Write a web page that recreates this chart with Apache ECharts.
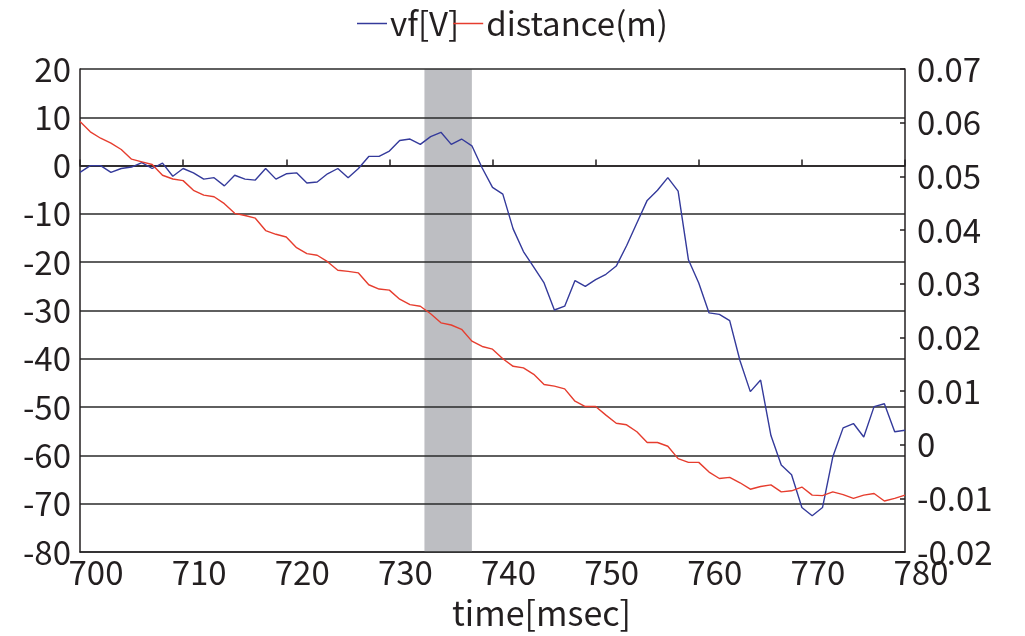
<!DOCTYPE html>
<html>
<head>
<meta charset="utf-8">
<script src="https://cdn.jsdelivr.net/npm/echarts@6/dist/echarts.min.js"></script>
<style>
html,body{margin:0;padding:0;background:#fff;}
#chart{width:1025px;height:636px;}
</style>
</head>
<body>
<div id="chart"></div>
<script>
const times = [700,701,702,703,704,705,706,707,708,709,710,711,712,713,714,715,716,717,718,719,720,
721,722,723,724,725,726,727,728,729,730,731,732,733,734,735,736,737,738,739,740,
741,742,743,744,745,746,747,748,749,750,751,752,753,754,755,756,757,758,759,760,
761,762,763,764,765,766,767,768,769,770,771,772,773,774,775,776,777,778,779,780];

const vf = [-1.4,0,0,-1.4,-0.6,-0.3,0.6,-0.6,0.5,-2.2,-0.6,
-1.5,-2.8,-2.5,-4.2,-2.0,-2.8,-3.0,-0.6,-2.8,-1.7,
-1.5,-3.6,-3.4,-1.7,-0.6,-2.5,-0.6,1.9,1.9,3.0,
5.2,5.5,4.4,6.0,6.9,4.4,5.5,4.1,-0.5,-4.5,
-5.9,-13.1,-17.8,-21.0,-24.3,-29.9,-29.1,-23.8,-25.0,-23.6,
-22.5,-20.8,-16.6,-11.9,-7.2,-5.1,-2.5,-5.3,-19.5,-24.3,
-30.5,-30.8,-32.1,-40.4,-46.8,-44.4,-55.9,-62.0,-64.0,-70.8,
-72.5,-70.8,-60.3,-54.3,-53.4,-56.2,-49.9,-49.3,-55.1,-54.8];

const distance = [0.0602,0.0583,0.0571,0.0562,0.0550,0.0532,0.0527,0.0522,0.0502,0.0495,0.0492,
0.0474,0.0465,0.0462,0.0449,0.0431,0.0427,0.0422,0.0399,0.0392,0.0387,
0.0367,0.0356,0.0353,0.0341,0.0325,0.0323,0.0320,0.0298,0.0290,0.0288,
0.0271,0.0261,0.0258,0.0244,0.0227,0.0223,0.0215,0.0193,0.0183,0.0178,
0.0160,0.0146,0.0143,0.0131,0.0112,0.0109,0.0104,0.0081,0.0071,0.0071,
0.0055,0.0040,0.0037,0.0024,0.0004,0.0004,-0.0003,-0.0026,-0.0033,-0.0033,
-0.0051,-0.0063,-0.0061,-0.0071,-0.0083,-0.0078,-0.0075,-0.0088,-0.0086,-0.0079,
-0.0094,-0.0095,-0.0088,-0.0093,-0.0100,-0.0094,-0.0091,-0.0105,-0.0100,-0.0094];

const band = [733.4, 738.0];
const seriesNames = ['vf[V]', 'distance(m)'];
const xName = 'time[msec]';

const FONT = '"Noto Sans CJK JP", "Noto Sans", sans-serif';
const TXT = '#231f20';

const chart = echarts.init(document.getElementById('chart'), null, {renderer: 'canvas'});
chart.setOption({
  animation: false,
  backgroundColor: '#fff',
  textStyle: {fontFamily: FONT},
  legend: {
    top: 2,
    left: 352,
    icon: 'rect',
    itemWidth: 30,
    itemHeight: 1.5,
    itemGap: -6,
    textStyle: {fontFamily: FONT, fontSize: 33, color: TXT, padding: [0, 0, 0, -2]},
    data: seriesNames
  },
  grid: {left: 80, right: 120, top: 69, bottom: 84, containLabel: false},
  xAxis: [
    {
      type: 'value', min: 700, max: 780, interval: 10, position: 'bottom',
      axisLine: {show: true, onZero: false, lineStyle: {color: TXT, width: 1.5}},
      axisTick: {show: false},
      splitLine: {show: false},
      axisLabel: {fontFamily: FONT, fontSize: 33, color: TXT, margin: 4, padding: [0, 0, 0, 32]}
    },
    {
      type: 'value', min: 700, max: 780, interval: 10, position: 'bottom', z: 1.5,
      axisLine: {show: true, onZero: true, onZeroAxisIndex: 0, lineStyle: {color: TXT, width: 1.5}},
      axisTick: {show: true, inside: true, length: 6, lineStyle: {color: TXT, width: 1.5}},
      splitLine: {show: false},
      axisLabel: {show: false}
    }
  ],
  yAxis: [
    {
      type: 'value', min: -80, max: 20, interval: 10, position: 'left', z: 1.5,
      axisLine: {show: true, onZero: false, lineStyle: {color: TXT, width: 1.5}},
      axisTick: {show: false},
      splitLine: {show: true, lineStyle: {color: '#2a2a2a', width: 1.5}},
      axisLabel: {fontFamily: FONT, fontSize: 33, color: TXT, margin: 9}
    },
    {
      type: 'value', min: -0.02, max: 0.07, interval: 0.01, position: 'right', z: 1.5,
      axisLine: {show: true, onZero: false, lineStyle: {color: TXT, width: 1.5}},
      axisTick: {show: true, inside: true, length: 5, lineStyle: {color: TXT, width: 1.5}},
      splitLine: {show: false},
      axisLabel: {fontFamily: FONT, fontSize: 33, color: TXT, margin: 12,
        formatter: v => String(+v.toFixed(2))}
    }
  ],
  graphic: [{
    type: 'text', left: 452, top: 596,
    style: {text: xName, font: '34px ' + FONT, fill: TXT}
  }],
  series: [
    {
      name: seriesNames[0], type: 'line', xAxisIndex: 0, yAxisIndex: 0,
      data: times.map((t, i) => [t, vf[i]]),
      symbol: 'none', z: 3,
      lineStyle: {color: '#343a9b', width: 1.4},
      itemStyle: {color: '#343a9b'},
      markArea: {
        silent: true, z: 1,
        itemStyle: {color: '#bdbec2', opacity: 1},
        data: [[{xAxis: band[0]}, {xAxis: band[1]}]]
      }
    },
    {
      name: seriesNames[1], type: 'line', xAxisIndex: 0, yAxisIndex: 1,
      data: times.map((t, i) => [t, distance[i]]),
      symbol: 'none', z: 3,
      lineStyle: {color: '#e63d2e', width: 1.4},
      itemStyle: {color: '#e63d2e'}
    }
  ]
});
</script>
</body>
</html>
